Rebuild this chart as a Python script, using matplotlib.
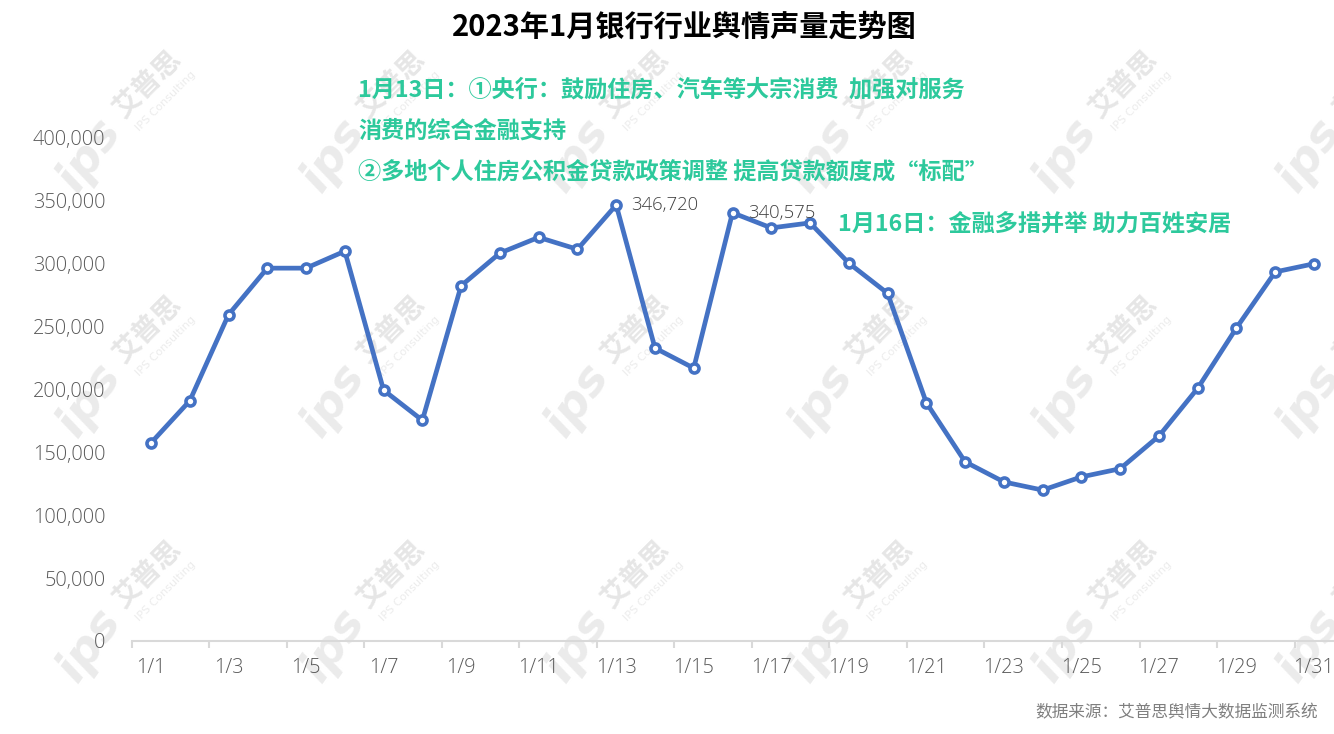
import matplotlib.pyplot as plt
import numpy as np

plt.rcParams['font.family'] = ['Open Sans', 'Noto Sans CJK SC', 'DejaVu Sans']

# daily volume, Jan 2023
days = ['1/%d' % d for d in range(1, 32)]
volume = [157500, 191000, 259500, 296500, 296500, 310000, 199500, 175500,
          282500, 308500, 321000, 311500, 346720, 233000, 217000, 340575,
          328500, 332500, 300500, 276500, 189500, 142500, 126500, 120000,
          130500, 137000, 163000, 201000, 249000, 293500, 300000]
labelled = {12: '346,720', 15: '340,575'}

title = '2023年1月银行行业舆情声量走势图'
note13 = ['1月13日：①央行：鼓励住房、汽车等大宗消费  加强对服务',
          '消费的综合金融支持',
          '②多地个人住房公积金贷款政策调整 提高贷款额度成“标配”']
note16 = '1月16日：金融多措并举 助力百姓安居'
source = '数据来源：艾普思舆情大数据监测系统'

W, H = 1334, 734
fig = plt.figure(figsize=(W / 100, H / 100), dpi=100)
ax = fig.add_axes([131.6 / W, 1 - 641 / H, (1333.4 - 131.6) / W, (641 - 138) / H])
ax.patch.set_alpha(0)

# watermarks
cjk = ['Noto Sans CJK SC', 'DejaVu Sans']
for yy in [155, 400, 645]:
    for xx in [90, 334, 578, 822, 1066, 1310]:
        fig.text(xx / W, 1 - yy / H, 'ips', fontsize=34, fontweight='bold', style='italic',
                 family='DejaVu Sans', color='#ebebeb', rotation=55,
                 ha='center', va='center', zorder=-5)
        fig.text((xx + 57) / W, 1 - (yy - 71) / H, '艾普思', fontsize=20, fontweight='bold',
                 family=cjk, color='#e6e6e6', rotation=45,
                 ha='center', va='center', zorder=-5)
        fig.text((xx + 76) / W, 1 - (yy - 54) / H, 'IPS Consulting', fontsize=8,
                 family='DejaVu Sans', color='#ececec', rotation=45,
                 ha='center', va='center', zorder=-5)

x = np.arange(len(days))
ax.plot(x, volume, color='#4472c4', lw=3.4, marker='o', ms=6.5, mfc='white',
        mec='#4472c4', mew=2.6, clip_on=False, zorder=3)

for i, txt in labelled.items():
    ax.annotate(txt, (x[i], volume[i]), xytext=(11, 0), textcoords='offset points',
                ha='left', va='center', fontsize=13.3, color='#404040', fontweight='light')

ax.set_xlim(-0.5, len(days) - 0.5)
ax.set_ylim(0, 400000)
yt = np.arange(0, 400001, 50000)
ax.set_yticks(yt)
ax.set_yticklabels(['{:,}'.format(v) for v in yt])
ax.set_xticks(x[::2])
ax.set_xticklabels(days[::2])
ax.set_xticks(np.arange(-0.5, len(days), 2), minor=True)

for s in ['top', 'right', 'left']:
    ax.spines[s].set_visible(False)
ax.spines['bottom'].set_color('#d9d9d9')
ax.spines['bottom'].set_linewidth(1.5)
ax.tick_params(axis='y', length=0, pad=19, labelsize=14.3, labelcolor='#595959')
ax.tick_params(axis='x', which='major', length=0, pad=12, labelsize=14.3, labelcolor='#595959')
ax.tick_params(axis='x', which='minor', length=5, width=1.5, color='#d9d9d9')
for lab in ax.get_xticklabels() + ax.get_yticklabels():
    lab.set_fontweight('light')

fig.text(684 / W, 1 - 27 / H, title, fontsize=21, fontweight='bold', family=cjk,
         color='black', ha='center', va='center')

teal = '#2dc99c'
for k, line in enumerate(note13):
    fig.text(358 / W, 1 - (90 + 41 * k) / H, line, fontsize=16.7, fontweight='bold',
             family=cjk, color=teal, ha='left', va='center')
fig.text(838 / W, 1 - 225 / H, note16, fontsize=16.7, fontweight='bold',
         family=cjk, color=teal, ha='left', va='center')

fig.text(1318 / W, 1 - 713 / H, source, fontsize=12, family=cjk, color='#7f7f7f',
         ha='right', va='center')

fig.savefig('out.png', dpi=100)
